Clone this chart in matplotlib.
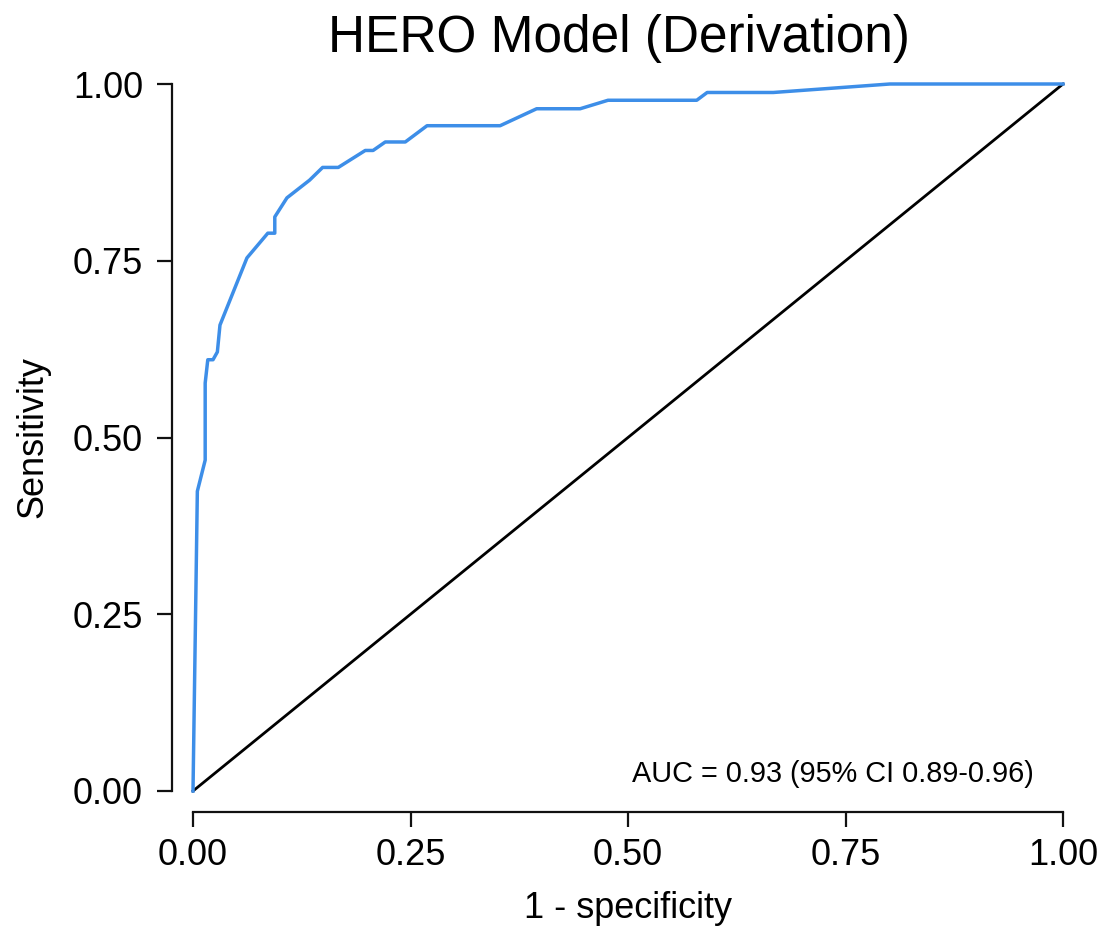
import matplotlib.pyplot as plt

plt.rcParams["font.family"] = ["Liberation Sans", "DejaVu Sans"]

# ROC curve points: 1 - specificity vs sensitivity
fpr = [0.0, 0.005, 0.014, 0.014, 0.017, 0.023, 0.028, 0.031, 0.062, 0.086, 0.094,
       0.094, 0.108, 0.134, 0.149, 0.167, 0.198, 0.207, 0.221, 0.244, 0.269,
       0.353, 0.395, 0.445, 0.477, 0.579, 0.591, 0.667, 0.801, 1.0]
tpr = [0.0, 0.424, 0.468, 0.577, 0.610, 0.610, 0.621, 0.659, 0.754, 0.789, 0.789,
       0.812, 0.839, 0.864, 0.882, 0.882, 0.906, 0.906, 0.918, 0.918, 0.941,
       0.941, 0.965, 0.965, 0.977, 0.977, 0.988, 0.988, 1.0, 1.0]

ticks = [0.0, 0.25, 0.5, 0.75, 1.0]
tick_labels = ["0.00", "0.25", "0.50", "0.75", "1.00"]
auc_text = "AUC = 0.93 (95% CI 0.89-0.96)"

fig = plt.figure(figsize=(11.1, 9.26), dpi=100)
ax = fig.add_axes([193 / 1110, 1 - 791 / 926, 870 / 1110, 707 / 926])

ax.plot(fpr, tpr, color="#3D8EE8", lw=2.5, clip_on=False, zorder=3)
ax.plot([0, 1], [0, 1], color="black", lw=2.0, clip_on=False, zorder=2)

ax.set_xlim(0, 1)
ax.set_ylim(0, 1)

# axis lines pushed away from the plot region
for side in ["top", "right"]:
    ax.spines[side].set_visible(False)
for side in ["left", "bottom"]:
    ax.spines[side].set_position(("outward", 15))
    ax.spines[side].set_linewidth(1.6)
    ax.spines[side].set_color("#111111")

ax.set_xticks(ticks, tick_labels)
ax.set_yticks(ticks, tick_labels)
ax.tick_params(axis="both", length=11, width=1.6, color="#111111", labelsize=26)
ax.tick_params(axis="x", pad=8)
ax.tick_params(axis="y", pad=10)

ax.set_xlabel("1 - specificity", fontsize=26, labelpad=13)
ax.set_ylabel("Sensitivity", fontsize=26, labelpad=16)
ax.set_title("HERO Model (Derivation)", fontsize=37, pad=23, x=0.49)

ax.text(0.505, 0.024, auc_text, fontsize=20.8, ha="left", va="center")

fig.savefig("out.png", dpi=100)
